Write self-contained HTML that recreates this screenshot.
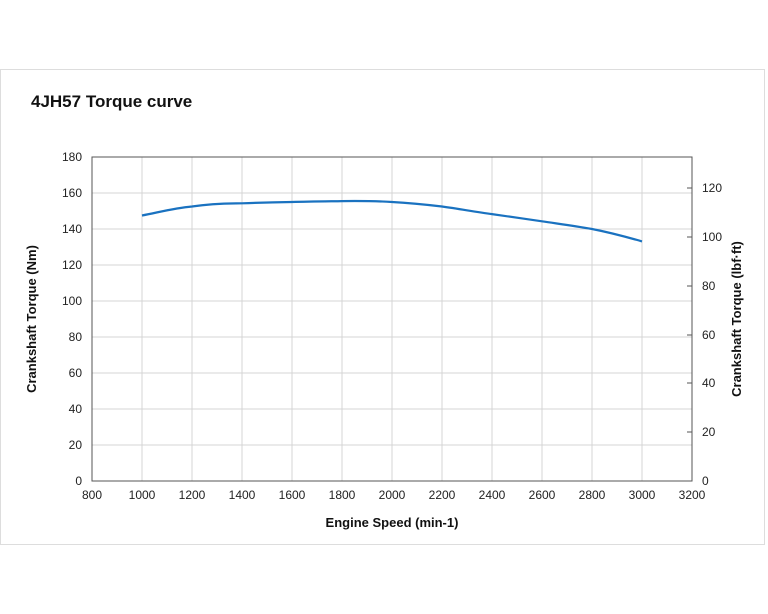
<!DOCTYPE html>
<html><head><style>
html,body{margin:0;padding:0;background:#fff;}
svg{display:block;font-family:"Liberation Sans",Arial,sans-serif;}
</style></head><body>
<svg width="768" height="614" viewBox="0 0 768 614" xmlns="http://www.w3.org/2000/svg">
<rect x="0.5" y="69.5" width="764" height="475" fill="#fff" stroke="#ddd"/>
<text x="31" y="107" font-size="17" font-weight="bold" fill="#111">4JH57  Torque curve</text>
<g stroke="#d4d4d4" stroke-width="1">
<line x1="142" y1="157" x2="142" y2="481"/><line x1="192" y1="157" x2="192" y2="481"/>
<line x1="242" y1="157" x2="242" y2="481"/><line x1="292" y1="157" x2="292" y2="481"/>
<line x1="342" y1="157" x2="342" y2="481"/><line x1="392" y1="157" x2="392" y2="481"/>
<line x1="442" y1="157" x2="442" y2="481"/><line x1="492" y1="157" x2="492" y2="481"/>
<line x1="542" y1="157" x2="542" y2="481"/><line x1="592" y1="157" x2="592" y2="481"/>
<line x1="642" y1="157" x2="642" y2="481"/>
<line x1="92" y1="193" x2="692" y2="193"/><line x1="92" y1="229" x2="692" y2="229"/>
<line x1="92" y1="265" x2="692" y2="265"/><line x1="92" y1="301" x2="692" y2="301"/>
<line x1="92" y1="337" x2="692" y2="337"/><line x1="92" y1="373" x2="692" y2="373"/>
<line x1="92" y1="409" x2="692" y2="409"/><line x1="92" y1="445" x2="692" y2="445"/>
</g>
<rect x="92" y="157" width="600" height="324" fill="none" stroke="#555" stroke-width="1"/>
<g stroke="#555">
<line x1="687" y1="432" x2="692" y2="432"/><line x1="687" y1="383" x2="692" y2="383"/>
<line x1="687" y1="335" x2="692" y2="335"/><line x1="687" y1="286" x2="692" y2="286"/>
<line x1="687" y1="237" x2="692" y2="237"/><line x1="687" y1="188" x2="692" y2="188"/>
</g>
<g font-size="12" fill="#222" text-anchor="end">
<text x="82" y="161">180</text><text x="82" y="197">160</text><text x="82" y="233">140</text>
<text x="82" y="269">120</text><text x="82" y="305">100</text><text x="82" y="341">80</text>
<text x="82" y="377">60</text><text x="82" y="413">40</text><text x="82" y="449">20</text>
<text x="82" y="485">0</text>
</g>
<g font-size="12" fill="#222">
<text x="702" y="192">120</text><text x="702" y="241">100</text><text x="702" y="290">80</text>
<text x="702" y="339">60</text><text x="702" y="387">40</text><text x="702" y="436">20</text>
<text x="702" y="485">0</text>
</g>
<g font-size="12" fill="#222" text-anchor="middle">
<text x="92" y="499">800</text><text x="142" y="499">1000</text><text x="192" y="499">1200</text>
<text x="242" y="499">1400</text><text x="292" y="499">1600</text><text x="342" y="499">1800</text>
<text x="392" y="499">2000</text><text x="442" y="499">2200</text><text x="492" y="499">2400</text>
<text x="542" y="499">2600</text><text x="592" y="499">2800</text><text x="642" y="499">3000</text>
<text x="692" y="499">3200</text>
</g>
<text x="392" y="527" font-size="13" font-weight="bold" text-anchor="middle" fill="#111">Engine Speed (min-1)</text>
<text transform="translate(36,319) rotate(-90)" font-size="13" font-weight="bold" text-anchor="middle" fill="#111">Crankshaft Torque (Nm)</text>
<text transform="translate(741,319) rotate(-90)" font-size="13" font-weight="bold" text-anchor="middle" fill="#111">Crankshaft Torque (lbf·ft)</text>
<path d="M142,215.5 C160,212 175,208 192,206.5 C215,203 230,203.5 242,203.3 C265,202.5 280,202.2 292,202 C310,201.5 330,201.3 342,201.1 C360,200.9 375,200.9 392,202 C410,203 425,204.5 442,206.5 C460,209 475,211.8 492,214.1 C510,216.8 525,218.8 542,221.3 C560,224 575,226 592,229 C610,232.5 625,236.5 642,241.4" fill="none" stroke="#1a72c0" stroke-width="2.2"/>
</svg>
</body></html>
